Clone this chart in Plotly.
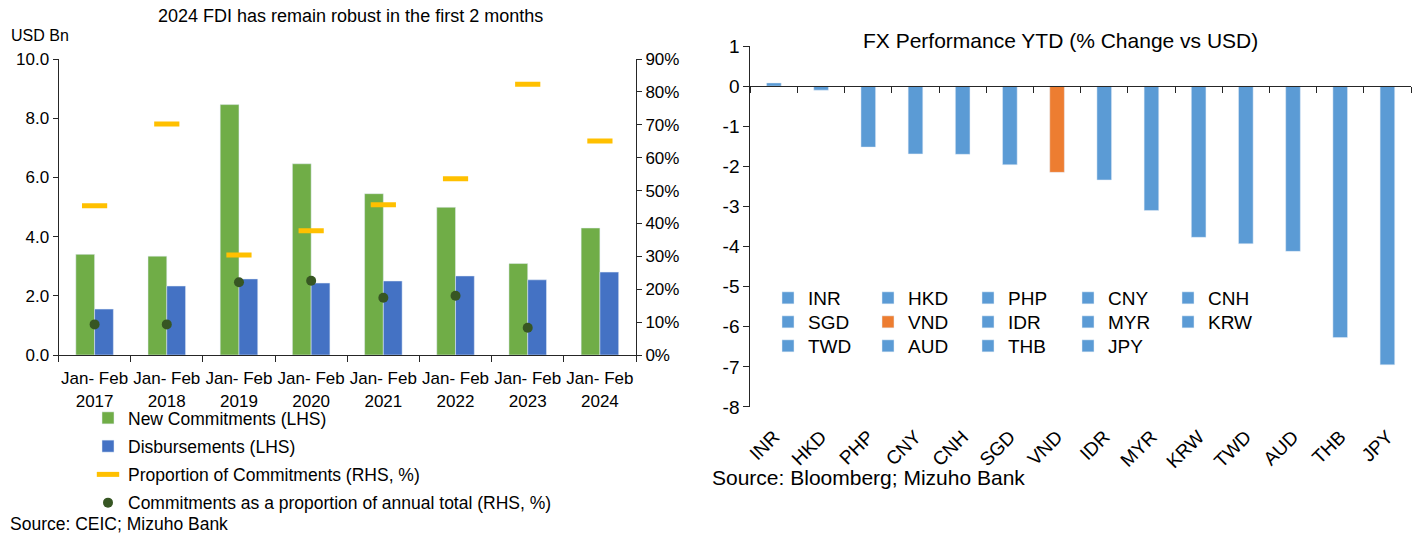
import plotly.graph_objects as go

# ---------------- data ----------------
periods = ["Jan- Feb<br>2017", "Jan- Feb<br>2018", "Jan- Feb<br>2019", "Jan- Feb<br>2020",
           "Jan- Feb<br>2021", "Jan- Feb<br>2022", "Jan- Feb<br>2023", "Jan- Feb<br>2024"]
new_commitments = [3.40, 3.34, 8.46, 6.46, 5.45, 4.99, 3.09, 4.29]
disbursements = [1.55, 2.33, 2.57, 2.43, 2.50, 2.67, 2.54, 2.80]
proportion_commitments = [0.454, 0.702, 0.304, 0.378, 0.457, 0.536, 0.823, 0.651]
commit_share_annual = [0.093, 0.093, 0.221, 0.226, 0.174, 0.180, 0.083, None]

currencies = ["INR", "HKD", "PHP", "CNY", "CNH", "SGD", "VND", "IDR",
              "MYR", "KRW", "TWD", "AUD", "THB", "JPY"]
fx_change = [0.08, -0.10, -1.52, -1.69, -1.70, -1.96, -2.15, -2.34,
             -3.10, -3.77, -3.93, -4.12, -6.27, -6.95]
highlight = "VND"

# ---------------- layout helpers ----------------
W, H = 1420, 535
FONT = "Liberation Sans, Arial, sans-serif"
AX = "#262626"

def px(x):
    return x / W

def py(y):
    return 1 - y / H

L_dom_x = [px(58.5), px(636)]
L_dom_y = [py(355), py(59)]
R_dom_x = [px(750.3), px(1411)]
R_dom_y = [py(407), py(46)]
r_min, r_max = -8, 1
zero_pos = R_dom_y[0] + (0 - r_min) / (r_max - r_min) * (R_dom_y[1] - R_dom_y[0])
r_ticks = list(range(r_min, r_max + 1))

fig = go.Figure()

# ---------------- left chart ----------------
fig.add_trace(go.Bar(x=periods, y=new_commitments, name="New Commitments (LHS)",
                     marker_color="#70AD47", width=0.26, offset=-0.26,
                     xaxis="x", yaxis="y", legend="legend", legendgroup="a"))
fig.add_trace(go.Bar(x=periods, y=disbursements, name="Disbursements (LHS)",
                     marker_color="#4472C4", width=0.26, offset=0.0,
                     xaxis="x", yaxis="y", legend="legend", legendgroup="b"))
fig.add_trace(go.Scatter(x=periods, y=proportion_commitments, name="Proportion of Commitments (RHS, %)",
                         mode="markers",
                         marker=dict(symbol="line-ew", size=18, color="#FFC000",
                                     line=dict(color="#FFC000", width=5)),
                         xaxis="x", yaxis="y2", legend="legend", legendgroup="c"))
fig.add_trace(go.Scatter(x=periods, y=commit_share_annual,
                         name="Commitments as a proportion of annual total (RHS, %)",
                         mode="markers", marker=dict(symbol="circle", size=10, color="#375623"),
                         xaxis="x", yaxis="y2", legend="legend", legendgroup="d"))

# ---------------- right chart ----------------
legend_rows = ["legend2"] * 5 + ["legend3"] * 5 + ["legend4"] * 4
for cur, val, lg in zip(currencies, fx_change, legend_rows):
    fig.add_trace(go.Bar(x=[cur], y=[val], name=cur,
                         marker_color="#ED7D31" if cur == highlight else "#5B9BD5",
                         width=0.31, offset=-0.155,
                         xaxis="x3", yaxis="y3", legend=lg))
# invisible helper trace to populate the zero-line category axis
fig.add_trace(go.Scatter(x=currencies, y=fx_change, mode="markers",
                         marker=dict(opacity=0), showlegend=False, hoverinfo="skip",
                         xaxis="x4", yaxis="y3"))

axis_font = dict(family=FONT, size=17, color="black")
r_font = dict(family=FONT, size=19, color="black")

def hleg(y):
    return dict(x=px(768), y=py(y), xref="container", yref="container",
                xanchor="left", yanchor="middle", orientation="h",
                entrywidth=55, font=r_font, bgcolor="rgba(0,0,0,0)")

fig.update_layout(
    width=W, height=H,
    margin=dict(l=0, r=0, t=0, b=0, autoexpand=False),
    paper_bgcolor="white", plot_bgcolor="white",
    font=dict(family=FONT, color="black"),
    showlegend=True,
    xaxis=dict(domain=L_dom_x, anchor="y", type="category", range=[-0.5, 7.5], automargin=False,
               showline=True, linecolor=AX, linewidth=1, ticks="outside", tickson="boundaries",
               ticklen=6, tickcolor=AX, showgrid=False, tickfont=axis_font, tickangle=0,
               ticklabelstandoff=8),
    yaxis=dict(domain=L_dom_y, anchor="x", range=[0, 10], dtick=2, tickformat=".1f",
               automargin=False,
               showline=True, linecolor=AX, ticks="outside", ticklen=5, tickcolor=AX,
               showgrid=False, zeroline=False, tickfont=axis_font),
    yaxis2=dict(overlaying="y", side="right", anchor="x", range=[0, 0.9], dtick=0.1,
                automargin=False,
                tickformat=".0%", showline=True, linecolor=AX, ticks="outside", ticklen=5,
                tickcolor=AX, showgrid=False, zeroline=False, tickfont=axis_font),
    xaxis3=dict(domain=R_dom_x, anchor="y3", type="category", range=[-0.5, 13.5],
                automargin=False,
                showline=False, ticks="", showgrid=False, tickangle=-45,
                ticklabelstandoff=14, tickfont=r_font),
    xaxis4=dict(overlaying="x3", anchor="free", position=zero_pos, type="category",
                automargin=False,
                range=[-0.5, 13.5], showline=True, linecolor=AX, linewidth=1,
                ticks="outside", tickson="boundaries", ticklen=6, tickcolor=AX,
                showticklabels=False, showgrid=False),
    yaxis3=dict(domain=R_dom_y, anchor="x3", range=[r_min - 0.001, r_max + 0.001],
                automargin=False,
                tickmode="array", tickvals=r_ticks, ticktext=[str(v) for v in r_ticks],
                showline=True, linecolor=AX, ticks="outside", ticklen=6, tickcolor=AX,
                showgrid=False, zeroline=False, tickfont=r_font),
    legend=dict(x=px(88), y=py(400), xref="container", yref="container",
                xanchor="left", yanchor="top", orientation="v",
                font=dict(family=FONT, size=17.5, color="black"), tracegroupgap=2.5,
                bgcolor="rgba(0,0,0,0)", traceorder="grouped"),
    legend2=hleg(298),
    legend3=hleg(322),
    legend4=hleg(346),
    annotations=[
        dict(text="2024 FDI has remain robust in the first 2 months", x=px(350), y=py(16),
             xref="paper", yref="paper", xanchor="center", yanchor="middle", showarrow=False,
             font=dict(family=FONT, size=18, color="black")),
        dict(text="USD Bn", x=px(9), y=py(35), xref="paper", yref="paper",
             xanchor="left", yanchor="middle", showarrow=False,
             font=dict(family=FONT, size=16, color="black")),
        dict(text="Source: CEIC; Mizuho Bank", x=px(8), y=py(524), xref="paper", yref="paper",
             xanchor="left", yanchor="middle", showarrow=False,
             font=dict(family=FONT, size=17.5, color="black")),
        dict(text="FX Performance YTD (% Change vs USD)", x=px(1060), y=py(40),
             xref="paper", yref="paper", xanchor="center", yanchor="middle", showarrow=False,
             font=dict(family=FONT, size=21, color="black")),
        dict(text="Source: Bloomberg; Mizuho Bank", x=px(710), y=py(477),
             xref="paper", yref="paper", xanchor="left", yanchor="middle", showarrow=False,
             font=dict(family=FONT, size=21, color="black")),
    ],
)

fig.write_html("out.html", config={"displayModeBar": False},
               post_script="document.body.style.margin='0';")
